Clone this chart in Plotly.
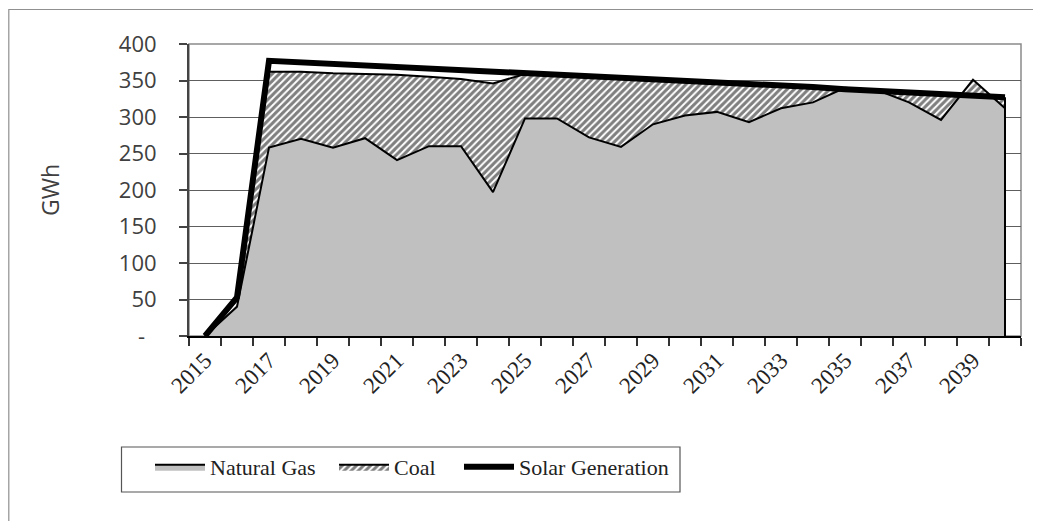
import plotly.graph_objects as go

# ---- data ----
years = list(range(2015, 2041))
natural_gas = [0, 40, 258, 270, 258, 271, 241, 260, 260, 197, 298, 298, 272, 259,
               290, 302, 307, 293, 312, 320, 340, 337, 320, 296, 351, 312]
coal = [0, 10, 104, 92, 102, 88, 117, 95, 92, 149, 61, 60, 84, 95,
        61, 47, 40, 52, 31, 21, 0, 0, 14, 36, -21, 15]
solar_generation = [0, 53, 377, 375, 373, 371, 369, 367, 364, 362, 360, 358, 356, 354,
                    351, 349, 347, 345, 343, 341, 338, 336, 334, 332, 330, 327]
y_ticks = [0, 50, 100, 150, 200, 250, 300, 350, 400]
y_tick_text = ["-\u00a0\u00a0", "50", "100", "150", "200", "250", "300", "350", "400"]
x_tick_years = [y for y in years if (y - 2015) % 2 == 0 and y <= 2039]

# ---- geometry helpers (screen pixel -> paper); page body has an 8px margin ----
W, H = 1041, 521
OFF = 8
L, R, T, B = 189 - OFF, 1021 - OFF, 44 - OFF, 336 - OFF


def px(x):
    return (x - OFF - L) / (R - L)


def py(y):
    return (B - (y - OFF)) / (B - T)


coal_total = [g + c for g, c in zip(natural_gas, coal)]

fig = go.Figure()

fig.add_trace(go.Scatter(
    x=years, y=natural_gas, name="Natural Gas", mode="lines",
    fill="tozeroy", fillcolor="#c0c0c0",
    line=dict(color="black", width=2),
    hoverinfo="x+y", legend="legend",
))
fig.add_trace(go.Scatter(
    x=years, y=coal_total, name="Coal", mode="lines",
    fill="tonexty", fillcolor="white",
    fillpattern=dict(shape="/", fgcolor="black", bgcolor="white", size=5, solidity=0.6),
    line=dict(color="black", width=2),
    customdata=coal, hovertemplate="%{x}: %{customdata}<extra>Coal</extra>",
    legend="legend2",
))
# closing edge of the stacked areas at the last year
fig.add_trace(go.Scatter(
    x=[years[-1], years[-1]], y=[0, coal_total[-1]], mode="lines",
    line=dict(color="black", width=2), showlegend=False, hoverinfo="skip",
))
fig.add_trace(go.Scatter(
    x=years, y=solar_generation, name="Solar Generation", mode="lines",
    line=dict(color="black", width=6), legend="legend3",
))

serif = "Liberation Serif, Times New Roman, serif"
sans = "Open Sans, Arial, sans-serif"

leg_common = dict(
    orientation="h", yanchor="top", xanchor="left", y=py(446),
    font=dict(family=serif, size=22, color="#222"),
    bgcolor="rgba(0,0,0,0)", itemwidth=50,
)

fig.update_layout(
    width=W, height=H,
    margin=dict(l=L, r=W - R, t=T, b=H - B),
    paper_bgcolor="white", plot_bgcolor="white",
    showlegend=True,
    legend=dict(leg_common, x=px(150)),
    legend2=dict(leg_common, x=px(334)),
    legend3=dict(leg_common, x=px(459)),
    xaxis=dict(
        range=[2014.5, 2040.5], tickmode="array", tickvals=x_tick_years,
        ticktext=[str(y) for y in x_tick_years], tickangle=-45,
        ticks="", showgrid=False, zeroline=False,
        showline=True, linecolor="black", linewidth=2,
        tickfont=dict(family=serif, size=23, color="#222"),
        minor=dict(tickmode="linear", tick0=2014.5, dtick=1, ticks="outside",
                   ticklen=8, tickwidth=1.5, tickcolor="#333", showgrid=False),
    ),
    yaxis=dict(
        range=[0, 400], tickmode="array", tickvals=y_ticks, ticktext=y_tick_text,
        ticks="outside", ticklen=8, tickwidth=1.5, tickcolor="#444",
        showgrid=True, gridcolor="#5e5e5e", gridwidth=1.2, zeroline=False,
        showline=True, linecolor="#444", linewidth=2,
        tickfont=dict(family=sans, size=22, color="#404040"),
        ticklabelstandoff=18,
        title=dict(text="GWh", font=dict(family=sans, size=23, color="#404040"), standoff=53),
    ),
    shapes=[
        # plot-area frame
        dict(type="rect", xref="paper", yref="paper", x0=0, x1=1, y0=0, y1=1,
             line=dict(color="#8a8a8a", width=1.5), layer="below"),
        # legend frame
        dict(type="rect", xref="paper", yref="paper", x0=px(121.5), x1=px(680), y0=py(492), y1=py(447),
             line=dict(color="#555", width=1.2)),
        # chart-area frame
        dict(type="rect", xref="paper", yref="paper", x0=px(8.8), x1=px(1100), y0=py(560), y1=py(9.5),
             line=dict(color="#909090", width=1.2)),
    ],
)

fig.write_html("out.html")
